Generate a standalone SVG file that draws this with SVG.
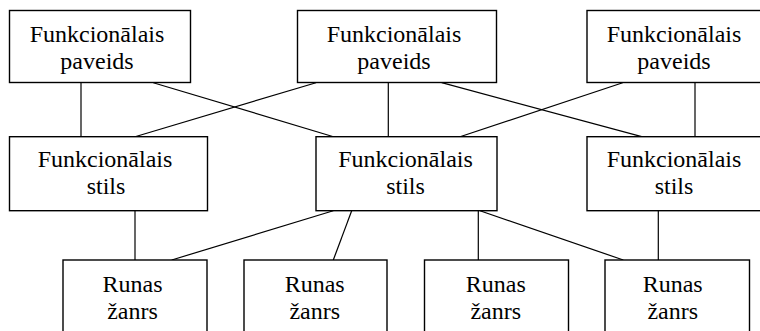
<svg xmlns="http://www.w3.org/2000/svg" width="760" height="331" viewBox="0 0 760 331">
<style>
.box{fill:#fff;stroke:#000;stroke-width:1.4}
.t{font-family:"Liberation Serif","Times New Roman",serif;font-size:24px;fill:#000;text-anchor:middle}
.c line{stroke:#000;stroke-width:1.2}
</style>
<rect width="760" height="331" fill="#fff"/>
<g class="c" id="connectors">
<line x1="81" y1="82.7" x2="81" y2="136.7"/>
<line x1="153.3" y1="82.7" x2="333.5" y2="136.7"/>
<line x1="316" y1="82.7" x2="135" y2="136.7"/>
<line x1="388.3" y1="82.7" x2="388.3" y2="136.7"/>
<line x1="441.7" y1="82.7" x2="641.7" y2="136.7"/>
<line x1="622.7" y1="82.7" x2="460" y2="136.7"/>
<line x1="695" y1="82.7" x2="695" y2="136.7"/>
<line x1="135" y1="210.7" x2="135" y2="260"/>
<line x1="333.3" y1="210.7" x2="171.7" y2="260"/>
<line x1="351.7" y1="210.7" x2="333.3" y2="260"/>
<line x1="478.3" y1="210.7" x2="478.3" y2="260"/>
<line x1="480" y1="210.7" x2="623.3" y2="260"/>
<line x1="658.3" y1="210.7" x2="658.3" y2="260"/>
</g>
<g id="n1"><rect class="box" x="9.5" y="10.5" width="181" height="72"/><text class="t" x="97" y="41.7">Funkcionālais</text><text class="t" x="97" y="68.5">paveids</text></g>
<g id="n2"><rect class="box" x="297.5" y="10.5" width="199" height="72"/><text class="t" x="394" y="41.7">Funkcionālais</text><text class="t" x="394" y="68.5">paveids</text></g>
<g id="n3"><rect class="box" x="587" y="10.5" width="176" height="72"/><text class="t" x="674" y="41.7">Funkcionālais</text><text class="t" x="674" y="68.5">paveids</text></g>
<g id="n4"><rect class="box" x="9.5" y="136.7" width="198" height="74"/><text class="t" x="105" y="166.7">Funkcionālais</text><text class="t" x="106" y="194">stils</text></g>
<g id="n5"><rect class="box" x="316" y="136.7" width="181" height="74"/><text class="t" x="405.5" y="166.7">Funkcionālais</text><text class="t" x="405.5" y="194">stils</text></g>
<g id="n6"><rect class="box" x="587" y="136.7" width="176" height="74"/><text class="t" x="674" y="166.7">Funkcionālais</text><text class="t" x="674" y="194">stils</text></g>
<g id="n7"><rect class="box" x="63" y="260" width="144" height="80"/><text class="t" x="132.5" y="291.7">Runas</text><text class="t" x="132.5" y="319">žanrs</text></g>
<g id="n8"><rect class="box" x="244" y="260" width="143" height="80"/><text class="t" x="314.7" y="291.7">Runas</text><text class="t" x="314.7" y="319">žanrs</text></g>
<g id="n9"><rect class="box" x="424.5" y="260" width="144" height="80"/><text class="t" x="495.8" y="291.7">Runas</text><text class="t" x="495.8" y="319">žanrs</text></g>
<g id="n10"><rect class="box" x="605" y="260" width="144.5" height="80"/><text class="t" x="672.7" y="291.7">Runas</text><text class="t" x="672.7" y="319">žanrs</text></g>
</svg>
